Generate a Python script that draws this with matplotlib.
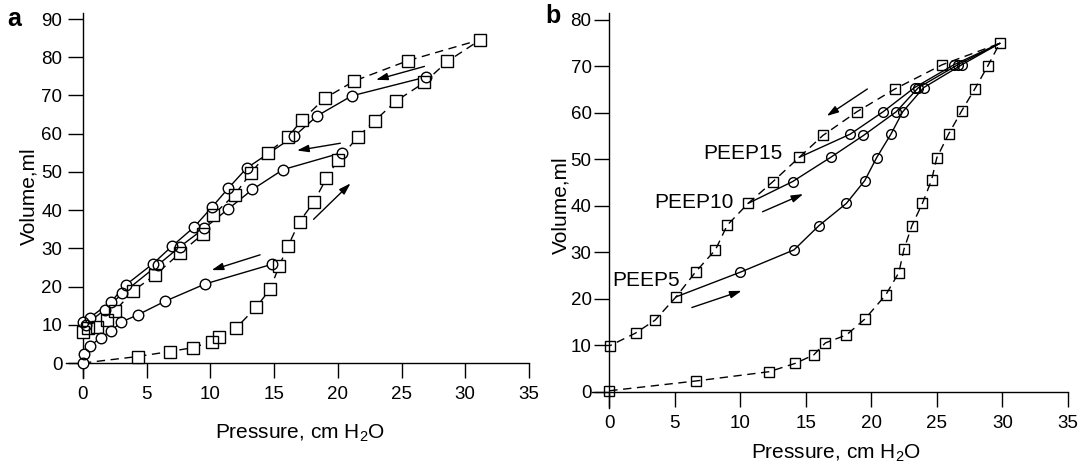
import matplotlib
matplotlib.use("Agg")
import matplotlib.pyplot as plt
import numpy as np

plt.rcParams['font.family'] = ['Liberation Sans', 'DejaVu Sans']
plt.rcParams['mathtext.fontset'] = 'custom'
plt.rcParams['mathtext.rm'] = 'Liberation Sans'
plt.rcParams['mathtext.it'] = 'Liberation Sans:italic'
plt.rcParams['mathtext.default'] = 'rm'

# ---------------- data: panel a ----------------
a_sq_infl_x = [0, 4.3, 6.8, 8.6, 10.1, 10.7, 12.0, 13.6, 14.7, 15.4, 16.1, 17.0, 18.1, 19.1, 20.0, 21.6, 22.9, 24.6, 26.8, 28.6, 31.2]
a_sq_infl_y = [0, 1.7, 3.0, 4.0, 5.6, 6.9, 9.1, 14.6, 19.4, 25.4, 30.7, 37.0, 42.0, 48.3, 53.1, 59.2, 63.4, 68.6, 73.4, 78.9, 84.6]
a_sq_defl_x = [25.5, 21.3, 19.0, 17.2, 16.1, 14.5, 13.2, 11.9, 10.2, 9.4, 7.6, 5.65, 3.95, 2.5, 1.9, 1.1, 0.4, 0]
a_sq_defl_y = [79.1, 73.8, 69.3, 63.6, 59.2, 55.0, 49.8, 44.0, 38.7, 33.7, 28.7, 23.0, 18.9, 13.6, 11.3, 9.5, 9.1, 8.2]

a_c15_x = [14.8, 9.6, 6.4, 4.3, 3.0, 2.2, 1.4, 0.55, 0.1, 0]
a_c15_y = [25.8, 20.7, 16.1, 12.6, 10.7, 8.4, 6.6, 4.5, 2.3, 0]
a_c20_x = [20.3, 15.7, 13.3, 11.4, 9.5, 7.6, 5.9, 3.1, 1.7, 0.2]
a_c20_y = [55.0, 50.6, 45.4, 40.3, 35.2, 30.4, 25.7, 18.2, 13.9, 10.0]
a_c27_x = [26.9, 21.1, 18.4, 16.6, 12.85, 11.4, 10.1, 8.7, 7.0, 5.5, 3.35, 2.2, 0.55, 0]
a_c27_y = [74.8, 69.9, 64.7, 59.4, 51.0, 45.7, 40.7, 35.5, 30.6, 26.0, 20.4, 16.0, 11.9, 10.6]

a_arrows = [((26.8, 77.6), (23.0, 74.1)),
            ((20.2, 57.5), (16.8, 55.6)),
            ((13.9, 28.3), (10.1, 24.3)),
            ((18.1, 37.6), (21.0, 47.0))]

# ---------------- data: panel b ----------------
b_sq_infl_x = [0, 6.6, 12.2, 14.2, 15.6, 16.5, 18.1, 19.5, 21.1, 22.1, 22.5, 23.1, 23.9, 24.6, 25.0, 25.9, 26.9, 27.9, 28.9, 29.8]
b_sq_infl_y = [0.2, 2.3, 4.3, 6.1, 7.9, 10.5, 12.2, 15.6, 20.8, 25.6, 30.7, 35.7, 40.5, 45.5, 50.3, 55.4, 60.4, 65.1, 70.1, 74.9]
b_sq_defl_x = [25.4, 21.8, 18.9, 16.3, 14.5, 12.5, 10.6, 9.0, 8.1, 6.6, 5.1, 3.5, 2.0, 0.05]
b_sq_defl_y = [70.3, 65.1, 60.2, 55.1, 50.4, 45.2, 40.5, 35.8, 30.5, 25.8, 20.4, 15.4, 12.6, 9.9]

b_p5_x = [5.1, 10.0, 14.1, 16.0, 18.1, 19.5, 20.4, 21.5, 22.4, 24.0, 26.9, 29.8]
b_p5_y = [20.4, 25.7, 30.5, 35.7, 40.5, 45.4, 50.3, 55.4, 60.2, 65.4, 70.3, 74.9]
b_p10_x = [10.6, 14.0, 16.9, 19.4, 21.9, 23.6, 26.6, 29.8]
b_p10_y = [40.5, 45.2, 50.4, 55.1, 60.2, 65.4, 70.3, 74.9]
b_p15_x = [14.5, 18.4, 20.9, 23.3, 26.3, 29.8]
b_p15_y = [50.4, 55.4, 60.2, 65.4, 70.3, 74.9]

b_arrows = [((19.7, 65.1), (16.6, 59.3)),
            ((11.7, 38.7), (14.8, 42.5)),
            ((6.3, 18.1), (10.1, 21.7))]

b_labels = ['PEEP15', 'PEEP10', 'PEEP5']
b_label_pos = [(13.2, 51.3), (9.5, 40.6), (5.4, 24.0)]

xticks = [0, 5, 10, 15, 20, 25, 30, 35]
a_yticks = [0, 10, 20, 30, 40, 50, 60, 70, 80, 90]
b_yticks = [0, 10, 20, 30, 40, 50, 60, 70, 80]

W, H = 1090, 470
fig = plt.figure(figsize=(W / 100, H / 100), dpi=100)


def axes_px(x0px, x_per, xlim, y0px, y_per, ylim):
    left = x0px + xlim[0] * x_per
    right = x0px + xlim[1] * x_per
    bottom = y0px - ylim[0] * y_per
    top = y0px - ylim[1] * y_per
    return fig.add_axes([left / W, 1 - bottom / H, (right - left) / W, (bottom - top) / H])


def style_axes(ax, xlim, ylim, yticks, xb, yb, ypad):
    ax.set_xlim(*xlim)
    ax.set_ylim(*ylim)
    for s in ['top', 'right']:
        ax.spines[s].set_visible(False)
    ax.spines['left'].set_position(('data', 0))
    ax.spines['bottom'].set_position(('data', 0))
    ax.spines['bottom'].set_bounds(*xb)
    ax.spines['left'].set_bounds(*yb)
    for s in ['left', 'bottom']:
        ax.spines[s].set_linewidth(1.0)
    ax.set_xticks(xticks)
    ax.set_yticks(yticks)
    ax.tick_params(direction='out', length=10.8, width=1.0, labelsize=13.5)
    ax.tick_params(axis='x', pad=6)
    ax.tick_params(axis='y', pad=ypad)
    ax.patch.set_visible(False)


def markers(ax, x, y, marker, ms, every=None):
    ax.plot(x, y, linestyle='none', marker=marker, ms=ms, mfc='white', mec='none',
            markevery=every, zorder=3)
    ax.plot(x, y, linestyle='none', marker=marker, ms=ms, mfc='none', mec='black',
            mew=1.0, markevery=every, zorder=4)


def arrow(ax, tail, head):
    ax.annotate('', xy=head, xytext=tail,
                arrowprops=dict(arrowstyle='-|>,head_length=0.7,head_width=0.22',
                                color='black', lw=1.0, shrinkA=0, shrinkB=0), zorder=5)


dash = (0, (6, 4))

# ---------------- panel a ----------------
ax1 = axes_px(83, 12.74, (-1.5, 35.5), 363, 3.822, (-4.5, 92.5))
style_axes(ax1, (-1.5, 35.5), (-4.5, 92.5), a_yticks, (-1.3, 35), (-4.0, 91.6), 4)

sqx = a_sq_infl_x + a_sq_defl_x
sqy = a_sq_infl_y + a_sq_defl_y
ax1.plot(sqx, sqy, color='black', lw=1.0, linestyle=dash, zorder=2)
markers(ax1, sqx, sqy, 's', 8.2, every=slice(1, None))
for cx, cy in [(a_c15_x, a_c15_y), (a_c20_x, a_c20_y), (a_c27_x, a_c27_y)]:
    ax1.plot(cx, cy, color='black', lw=1.0, zorder=2)
    markers(ax1, cx, cy, 'o', 7.6)
for t, h in a_arrows:
    arrow(ax1, t, h)

# ---------------- panel b ----------------
ax2 = axes_px(609.3, 13.1, (-1.5, 35.5), 391.7, 4.65, (-3.8, 82))
style_axes(ax2, (-1.5, 35.5), (-3.8, 82), b_yticks, (-1.3, 35), (-3.4, 81.4), 2)

bsx = b_sq_infl_x + b_sq_defl_x
bsy = b_sq_infl_y + b_sq_defl_y
ax2.plot(bsx, bsy, color='black', lw=1.0, linestyle=dash, zorder=2)
ax2.plot(bsx, bsy, linestyle='none', marker='s', ms=6.6, mfc='none', mec='black', mew=1.0, zorder=4)
for px, py in [(b_p5_x, b_p5_y), (b_p10_x, b_p10_y), (b_p15_x, b_p15_y)]:
    ax2.plot(px, py, color='black', lw=1.0, zorder=2)
    ax2.plot(px, py, linestyle='none', marker='o', ms=7.0, mfc='none', mec='black', mew=1.0,
             markevery=slice(1, len(px) - 1), zorder=4)
for t, h in b_arrows:
    arrow(ax2, t, h)
for lab, (lx, ly) in zip(b_labels, b_label_pos):
    ax2.text(lx, ly, lab, ha='right', va='center', fontsize=15, zorder=6)

# ---------------- labels ----------------
fig.text(300 / W, 1 - 433 / H, 'Pressure, cm H$_2$O', ha='center', va='center', fontsize=15)
fig.text(836 / W, 1 - 453 / H, 'Pressure, cm H$_2$O', ha='center', va='center', fontsize=15)
fig.text(29 / W, 1 - 196 / H, 'Volume,ml', ha='center', va='center', rotation=90, fontsize=15)
fig.text(561 / W, 1 - 205 / H, 'Volume,ml', ha='center', va='center', rotation=90, fontsize=15)
fig.text(14 / W, 1 - 19 / H, 'a', ha='center', va='center', fontsize=18, fontweight='bold')
fig.text(553 / W, 1 - 16 / H, 'b', ha='center', va='center', fontsize=18, fontweight='bold')

fig.savefig('out.png', dpi=100)
